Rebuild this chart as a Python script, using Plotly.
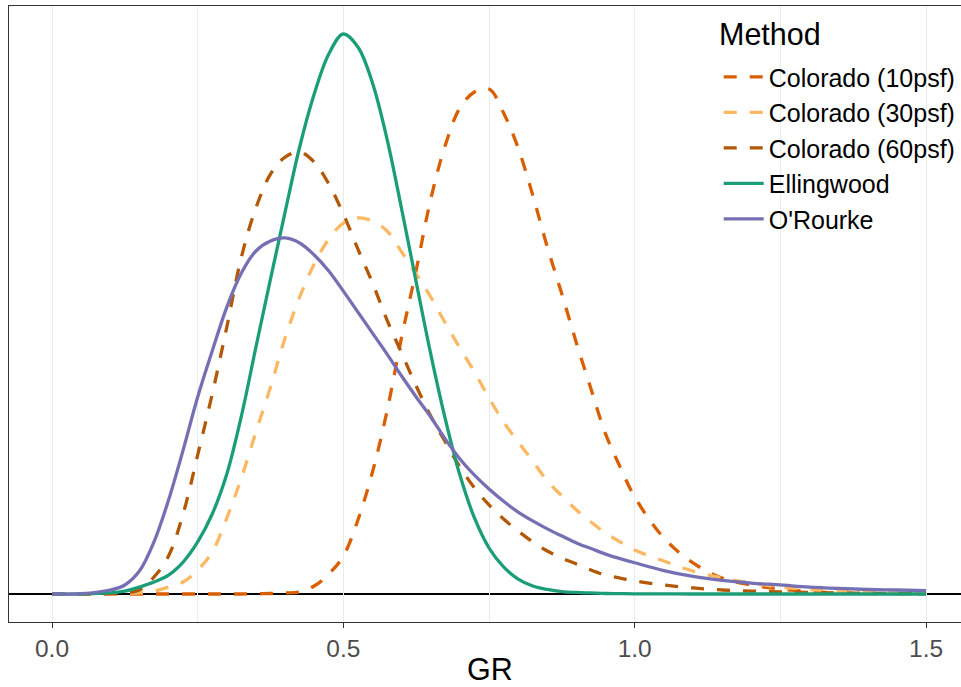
import plotly.graph_objects as go

# GR grid (x values at which the density curves were read)
gr = [0, 0.05, 0.1, 0.125, 0.15, 0.175, 0.2, 0.225, 0.25, 0.275,
      0.3, 0.325, 0.35, 0.375, 0.4, 0.425, 0.45, 0.475, 0.5, 0.525,
      0.55, 0.575, 0.6, 0.625, 0.65, 0.675, 0.7, 0.725, 0.75, 0.775,
      0.8, 0.825, 0.85, 0.875, 0.9, 0.925, 0.95, 0.975, 1.0,
      1.05, 1.1, 1.15, 1.2, 1.25, 1.3, 1.35, 1.4, 1.45, 1.5]

colorado_10 = [0, 0, 0, 0, 0, 0, 0, 0, 0, 0,
               0, 0, 0.001, 0.003, 0.006, 0.012, 0.046, 0.115, 0.219, 0.426,
               0.703, 1.054, 1.480, 1.866, 2.275, 2.586, 2.800, 2.892, 2.909, 2.771,
               2.569, 2.298, 1.999, 1.728, 1.446, 1.181, 0.922, 0.732, 0.559,
               0.323, 0.179, 0.092, 0.052, 0.029, 0.014, 0.007, 0.003, 0.002, 0.001]

colorado_30 = [0, 0, 0, 0.003, 0.006, 0.017, 0.040, 0.069, 0.138, 0.242,
               0.438, 0.668, 0.933, 1.192, 1.475, 1.711, 1.901, 2.045, 2.137, 2.166,
               2.149, 2.091, 1.970, 1.843, 1.711, 1.561, 1.417, 1.279, 1.129, 0.991,
               0.876, 0.766, 0.651, 0.565, 0.484, 0.415, 0.351, 0.300, 0.253,
               0.190, 0.132, 0.092, 0.063, 0.040, 0.026, 0.017, 0.012, 0.007, 0.005]

colorado_60 = [0, 0, 0.002, 0.006, 0.023, 0.098, 0.219, 0.461, 0.801, 1.152,
               1.538, 1.941, 2.224, 2.419, 2.517, 2.546, 2.488, 2.362, 2.189, 1.987,
               1.792, 1.578, 1.388, 1.198, 1.025, 0.876, 0.732, 0.611, 0.513, 0.432,
               0.363, 0.300, 0.248, 0.207, 0.173, 0.138, 0.109, 0.092, 0.075,
               0.052, 0.035, 0.023, 0.017, 0.012, 0.009, 0.006, 0.004, 0.003, 0.002]

ellingwood = [0, 0, 0.006, 0.017, 0.040, 0.069, 0.109, 0.184, 0.300, 0.461,
              0.691, 1.025, 1.423, 1.815, 2.200, 2.575, 2.880, 3.111, 3.226, 3.151,
              2.944, 2.621, 2.218, 1.797, 1.382, 1.008, 0.685, 0.438, 0.265, 0.156,
              0.086, 0.046, 0.026, 0.014, 0.009, 0.006, 0.003, 0.002, 0.001,
              0.001, 0, 0, 0, 0, 0, 0, 0, 0, 0]

orourke = [0, 0.002, 0.023, 0.052, 0.132, 0.300, 0.541, 0.829, 1.135, 1.400,
           1.653, 1.849, 1.976, 2.033, 2.051, 2.022, 1.953, 1.861, 1.745, 1.624,
           1.503, 1.382, 1.256, 1.135, 1.020, 0.892, 0.778, 0.685, 0.605, 0.534,
           0.472, 0.421, 0.375, 0.334, 0.294, 0.262, 0.230, 0.204, 0.180,
           0.135, 0.101, 0.078, 0.063, 0.052, 0.040, 0.032, 0.026, 0.023, 0.019]

methods = ["Colorado (10psf)", "Colorado (30psf)", "Colorado (60psf)", "Ellingwood", "O'Rourke"]
series = [colorado_10, colorado_30, colorado_60, ellingwood, orourke]
colors = ["#D95F02", "#FDB863", "#B35806", "#1B9E77", "#7570B3"]
dashes = ["13px,13px", "13px,13px", "13px,13px", "solid", "solid"]

x_ticks = [0.0, 0.5, 1.0, 1.5]
x_tick_text = ["0.0", "0.5", "1.0", "1.5"]

FONT = "Liberation Sans, Arial, sans-serif"

fig = go.Figure()
for name, ys, col, dash in zip(methods, series, colors, dashes):
    fig.add_trace(go.Scatter(
        x=gr, y=ys, mode="lines", name=name,
        line=dict(color=col, width=3.3, dash=dash, shape="spline", smoothing=1.0),
    ))

fig.add_hline(y=0, line=dict(color="black", width=2), layer="below")

ymax = max(max(s) for s in series)
fig.update_layout(
    width=961, height=687,
    margin=dict(l=9, r=0, t=6, b=65, autoexpand=False),
    paper_bgcolor="white", plot_bgcolor="white",
    font=dict(family=FONT, color="black"),
    showlegend=True,
    legend=dict(
        x=0.7455, y=0.922, xanchor="left", yanchor="top",
        bgcolor="rgba(0,0,0,0)",
        font=dict(size=25, color="black", family=FONT),
        itemwidth=40,
        tracegroupgap=0,
    ),
    xaxis=dict(
        automargin=False,
        range=[(9 - 52) / 582.7, (961 - 52) / 582.7],
        tickmode="array", tickvals=x_ticks, ticktext=x_tick_text,
        ticks="outside", ticklen=5, tickwidth=1.1, tickcolor="#333333",
        tickfont=dict(size=24.5, color="#4D4D4D", family=FONT),
        showgrid=True, gridcolor="#EBEBEB", gridwidth=1.1,
        minor=dict(dtick=0.25, tick0=0, showgrid=True, gridcolor="#EBEBEB", gridwidth=0.6, ticks=""),
        showline=True, linecolor="#333333", linewidth=1.1, mirror=True,
        zeroline=False,
    ),
    yaxis=dict(
        automargin=False,
        range=[-0.05 * ymax, 1.05 * ymax],
        showticklabels=False, ticks="", showgrid=False, zeroline=False,
        showline=True, linecolor="#333333", linewidth=1.1, mirror=False,
    ),
    annotations=[
        dict(text="GR", xref="paper", yref="paper", x=(490 - 9) / 952, y=-(669 - 622) / 616,
             xanchor="center", yanchor="middle", showarrow=False,
             font=dict(size=30.5, color="black", family=FONT)),
        dict(text="Method", xref="paper", yref="paper", x=(717 - 9) / 952, y=1 - (34 - 6) / 616,
             xanchor="left", yanchor="middle", showarrow=False,
             font=dict(size=30.5, color="black", family=FONT)),
    ],
)

fig.write_html("out.html", config={"displayModeBar": False},
               post_script="document.body.style.margin='0px';")
